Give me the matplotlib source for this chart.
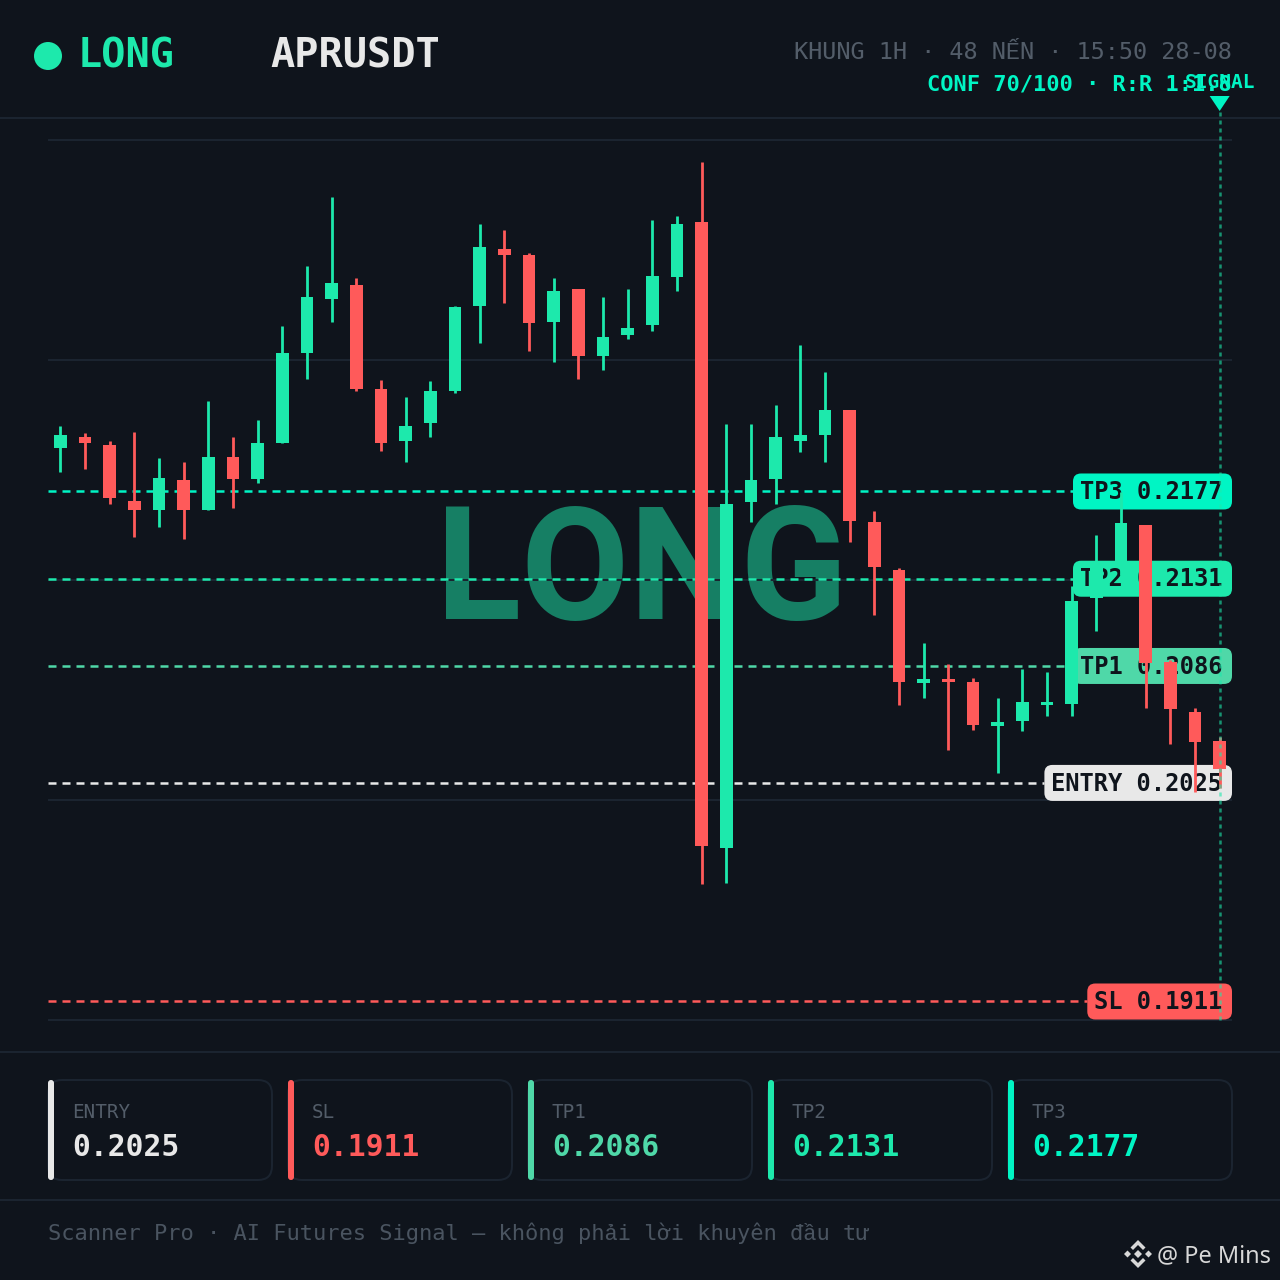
import matplotlib
matplotlib.use("Agg")
import matplotlib.pyplot as plt
from matplotlib.patches import FancyBboxPatch, Circle, Polygon

# ---------- data ----------
OPENS = [0.21995,0.22053,0.22013,0.21722,0.21673,0.21832,0.21673,0.21951,0.21834,0.22025,0.22494,0.22776,
         0.22845,0.22303,0.22035,0.22126,0.22296,0.22737,0.23033,0.23003,0.22656,0.22825,0.22475,0.22586,
         0.22637,0.22887,0.23176,0.19911,0.21715,0.21834,0.22035,0.22065,0.22193,0.21611,0.21361,0.20771,
         0.20792,0.20776,0.20547,0.20571,0.20655,0.20662,0.21212,0.21397,0.21594,0.20881,0.20622,0.20469]
CLOSES = [0.22063,0.22025,0.21735,0.21673,0.21842,0.21673,0.21951,0.21834,0.22021,0.22494,0.22784,0.22856,
          0.22305,0.22025,0.22112,0.22294,0.22734,0.23044,0.23005,0.22647,0.22814,0.22475,0.22574,0.22623,
          0.22894,0.23165,0.19921,0.21705,0.21832,0.22053,0.22063,0.22193,0.21616,0.21376,0.20776,0.20792,
          0.20776,0.20552,0.20568,0.20670,0.20670,0.21200,0.21402,0.21604,0.20874,0.20634,0.20463,0.20323]
HIGHS = [0.22112,0.22074,0.22032,0.22082,0.21943,0.21922,0.22244,0.22053,0.22143,0.22633,0.22945,0.23306,
         0.22885,0.22353,0.22263,0.22345,0.22737,0.23165,0.23134,0.23014,0.22884,0.22825,0.22784,0.22825,
         0.23184,0.23205,0.23487,0.22122,0.22122,0.22223,0.22532,0.22392,0.22193,0.21668,0.21371,0.20980,
         0.20870,0.20797,0.20693,0.20843,0.20830,0.21277,0.21542,0.21769,0.21595,0.20891,0.20639,0.20491]
LOWS = [0.21873,0.21886,0.21703,0.21534,0.21583,0.21524,0.21672,0.21684,0.21813,0.22025,0.22355,0.22656,
        0.22296,0.21983,0.21924,0.22054,0.22285,0.22546,0.22755,0.22504,0.22445,0.22355,0.22405,0.22565,
        0.22606,0.22816,0.19723,0.19728,0.21611,0.21705,0.21974,0.21924,0.21507,0.21126,0.20656,0.20693,
        0.20422,0.20526,0.20302,0.20522,0.20601,0.20601,0.21041,0.21334,0.20642,0.20451,0.20203,0.20222]
GRID_PRICES = [0.23603, 0.22456, 0.21308, 0.20161, 0.19013]
LEVEL_NAMES = ["ENTRY", "SL", "TP1", "TP2", "TP3"]
LEVEL_VALUES = [0.2025, 0.1911, 0.2086, 0.21315, 0.2177]
LEVEL_TEXT = ["0.2025", "0.1911", "0.2086", "0.2131", "0.2177"]
LEVEL_COLORS = ["#e8e8e8", "#ff5a5a", "#4fd8a8", "#1de9ac", "#00f5c4"]

BG = "#0f141c"; LINE = "#1b2430"; MUTED = "#535d69"; FOOT = "#4a5460"
UP = "#1de9ac"; DOWN = "#ff5a5a"; ACCENT = "#00f5c4"
MONO = ["DejaVu Sans Mono", "Liberation Mono", "DejaVu Sans"]
PX = 0.000052156                     # price per pixel
YMIN, YMAX = 0.190135, 0.236032

def price_at(px_y):
    return 0.243334 - PX * px_y

fig = plt.figure(figsize=(12.8, 12.8), dpi=100, facecolor=BG)

# ---------- full-figure pixel layer ----------
ui = fig.add_axes([0, 0, 1, 1], zorder=0)
ui.set_xlim(0, 1280); ui.set_ylim(1280, 0); ui.axis("off")

for y in (118, 1052, 1200):
    ui.plot([0, 1280], [y, y], color=LINE, lw=1.44, solid_capstyle="butt")

ui.add_patch(Circle((48, 56), 14, color=UP, lw=0))
ui.text(78, 67, "LONG", color=UP, family=MONO, weight="bold", fontsize=29, va="baseline")
ui.text(270, 67, "APRUSDT", color="#e8e8e8", family=MONO, weight="bold", fontsize=29, va="baseline")
ui.text(1232, 59, "KHUNG 1H · 48 NẾN · 15:50 28-08", color=MUTED, family=MONO, fontsize=16.9,
        ha="right", va="baseline")
ui.text(1232, 90, "CONF 70/100 · R:R 1:1.8", color=ACCENT, family=MONO, weight="bold", fontsize=15.8,
        ha="right", va="baseline")

# central watermark
ui.text(642, 619, "LONG", color="#167f64", family="Roboto", weight="bold", fontsize=113, ha="center",
        va="baseline")

# summary cards
for i, (nm, tx, col) in enumerate(zip(LEVEL_NAMES, LEVEL_TEXT, LEVEL_COLORS)):
    x0 = 48 + 240 * i
    ui.add_patch(FancyBboxPatch((x0, 1080), 224, 100, boxstyle="round,pad=0,rounding_size=14",
                                fc=BG, ec=LINE, lw=1.44))
    ui.add_patch(FancyBboxPatch((x0, 1080), 6, 100, boxstyle="round,pad=0,rounding_size=3",
                                fc=col, ec="none"))
    ui.text(x0 + 24, 1118, nm, color=MUTED, family=MONO, fontsize=13.9, va="baseline")
    ui.text(x0 + 24, 1156, tx, color=col, family=MONO, weight="bold", fontsize=21.3, va="baseline")

ui.text(48, 1240, "Scanner Pro · AI Futures Signal — không phải lời khuyên đầu tư", color=FOOT,
        family=MONO, fontsize=15.8, va="baseline")

# attribution
cx, cy, lc = 1138, 1254, "#d8d8d8"
for pts in ([(0,-14),(7.5,-6.5),(5,-4),(0,-9),(-5,-4),(-7.5,-6.5)],
            [(0,14),(7.5,6.5),(5,4),(0,9),(-5,4),(-7.5,6.5)],
            [(0,-4),(4,0),(0,4),(-4,0)],
            [(-14,0),(-10.5,-3.5),(-7,0),(-10.5,3.5)],
            [(14,0),(10.5,-3.5),(7,0),(10.5,3.5)]):
    ui.add_patch(Polygon([(cx + a, cy + b) for a, b in pts], closed=True, fc=lc, ec="none"))
ui.text(1157, 1262, "@ Pe Mins", color=lc, family="Noto Sans", fontsize=16.9, va="baseline")

# ---------- level layer: x in pixels, y in price ----------
rect = [48 / 1280, 260 / 1280, 1184 / 1280, 880 / 1280]
lv = fig.add_axes(rect, zorder=1)
lv.patch.set_alpha(0)
lv.set_xlim(48, 1232); lv.set_ylim(YMIN, YMAX); lv.axis("off")

for g in GRID_PRICES:
    lv.axhline(g, color=LINE, lw=1.44, clip_on=False, solid_capstyle="butt", zorder=1)

for nm, val, tx, col in zip(LEVEL_NAMES, LEVEL_VALUES, LEVEL_TEXT, LEVEL_COLORS):
    s = f"{nm} {tx}"
    left = 1232 - (len(s) * 14.3 + 16)
    lv.plot([48, left], [val, val], color=col, lw=1.8, ls=(0, (3.2, 2.4)), dash_capstyle="butt", zorder=2)
    lv.add_patch(FancyBboxPatch((left, val - 18 * PX), 1232 - left, 36 * PX,
                                boxstyle="round,pad=0,rounding_size=8", mutation_aspect=PX,
                                fc=col, ec="none", clip_on=False, zorder=3))
    lv.text(1222, val - 7.6 * PX, s, color=BG, family=MONO, weight="bold", fontsize=17.1,
            ha="right", va="baseline", zorder=4)

# ---------- candle layer ----------
ax = fig.add_axes(rect, zorder=2)
ax.patch.set_alpha(0)
ax.set_xlim(-0.5, 47.5); ax.set_ylim(YMIN, YMAX); ax.axis("off")

idx = list(range(len(OPENS)))
cols = [UP if c >= o else DOWN for o, c in zip(OPENS, CLOSES)]
ax.vlines(idx, LOWS, HIGHS, colors=cols, lw=2.0, capstyle="butt")
ax.bar(idx, [abs(c - o) for o, c in zip(OPENS, CLOSES)],
       bottom=[min(o, c) for o, c in zip(OPENS, CLOSES)],
       width=12.4 / 24.67, color=cols, linewidth=0)

# signal marker on the last candle
last = idx[-1]
ax.vlines(last, YMIN, price_at(110), color=UP, alpha=0.6, lw=1.8, ls=(0, (1.6, 1.6)), clip_on=False)
ax.fill([last - 10 / 24.67, last + 10 / 24.67, last],
        [price_at(96), price_at(96), price_at(111)], color=ACCENT, lw=0, clip_on=False)
ax.text(last, price_at(88), "SIGNAL", color=ACCENT, family=MONO, weight="bold", fontsize=14,
        ha="center", va="baseline", clip_on=False)

fig.savefig("out.png", dpi=100, facecolor=BG)
